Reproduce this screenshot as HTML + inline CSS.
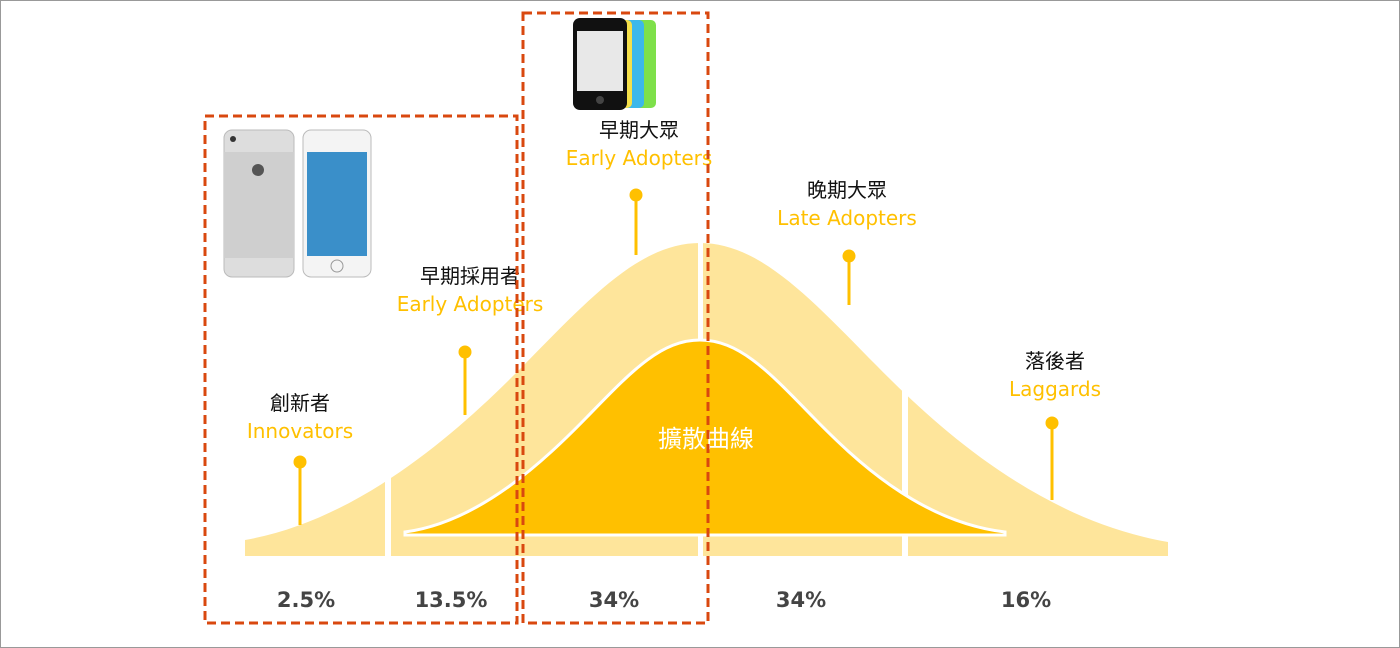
<!DOCTYPE html>
<html><head><meta charset="utf-8"><style>
body{margin:0;background:#fff;}
svg{display:block}
text{font-family:"DejaVu Sans","Noto Sans CJK TC",sans-serif;}
</style></head><body>
<svg width="1400" height="648" viewBox="0 0 1400 648" xmlns="http://www.w3.org/2000/svg">
<rect x="0" y="0" width="1400" height="648" fill="#fff"/>
<!-- outer curve -->
<path d="M245,556 L245,540 C360,520 460,430 523,366 C590,298 640,243 700,243 C760,243 810,298 877,366 C940,430 1040,520 1168,542 L1168,556 Z" fill="#FEE59B"/>
<!-- gaps -->
<rect x="385" y="240" width="6" height="320" fill="#fff"/>
<rect x="698" y="240" width="5" height="320" fill="#fff"/>
<rect x="902" y="240" width="6" height="320" fill="#fff"/>
<!-- inner -->
<path d="M405,535 L405,532 C480,522 545,460 587,417 C630,373 660,340 700,340 C740,340 770,373 813,417 C855,460 920,522 1005,532 L1005,535 Z" fill="#FFC000" stroke="#fff" stroke-width="3"/>
<text x="706" y="447" font-size="24" fill="#fff" text-anchor="middle">擴散曲線</text>
<!-- pins -->
<g fill="#FFC000" stroke="#FFC000" stroke-width="3">
<line x1="300" y1="462" x2="300" y2="525"/><circle cx="300" cy="462" r="5"/>
<line x1="465" y1="352" x2="465" y2="415"/><circle cx="465" cy="352" r="5"/>
<line x1="636" y1="195" x2="636" y2="255"/><circle cx="636" cy="195" r="5"/>
<line x1="849" y1="256" x2="849" y2="305"/><circle cx="849" cy="256" r="5"/>
<line x1="1052" y1="423" x2="1052" y2="500"/><circle cx="1052" cy="423" r="5"/>
</g>
<g font-size="20" text-anchor="middle">
<text x="300" y="410" fill="#111">創新者</text><text x="300" y="438" fill="#FFC000">Innovators</text>
<text x="470" y="283" fill="#111">早期採用者</text><text x="470" y="311" fill="#FFC000">Early Adopters</text>
<text x="639" y="137" fill="#111">早期大眾</text><text x="639" y="165" fill="#FFC000">Early Adopters</text>
<text x="847" y="197" fill="#111">晚期大眾</text><text x="847" y="225" fill="#FFC000">Late Adopters</text>
<text x="1055" y="368" fill="#111">落後者</text><text x="1055" y="396" fill="#FFC000">Laggards</text>
</g>
<g font-size="21" text-anchor="middle" fill="#444" font-weight="bold">
<text x="306" y="607">2.5%</text><text x="451" y="607">13.5%</text><text x="614" y="607">34%</text><text x="801" y="607">34%</text><text x="1026" y="607">16%</text>
</g>
<!-- dashed boxes -->
<g fill="none" stroke="#D9480F" stroke-width="3" stroke-dasharray="9,5">
<rect x="205" y="116" width="312" height="507"/>
<rect x="523" y="13" width="185" height="610"/>
</g>
<!-- phones -->
<rect x="224" y="130" width="70" height="147" rx="8" fill="#ddd" stroke="#bbb"/>
<rect x="224" y="152" width="70" height="106" fill="#cfcfcf"/>
<circle cx="233" cy="139" r="3" fill="#333"/>
<circle cx="258" cy="170" r="6" fill="#555"/>
<rect x="303" y="130" width="68" height="147" rx="8" fill="#f4f4f4" stroke="#bbb"/>
<rect x="307" y="152" width="60" height="104" fill="#3a8fc9"/>
<circle cx="337" cy="266" r="6" fill="none" stroke="#999"/>
<rect x="633" y="20" width="23" height="88" rx="5" fill="#7ee04a"/>
<rect x="621" y="20" width="23" height="88" rx="5" fill="#3cb8ea"/>
<rect x="609" y="20" width="23" height="88" rx="5" fill="#f5e04a"/>
<rect x="597" y="20" width="23" height="88" rx="5" fill="#f06a7a"/>
<rect x="573" y="18" width="54" height="92" rx="7" fill="#111"/>
<rect x="577" y="31" width="46" height="60" fill="#e8e8e8"/>
<circle cx="600" cy="100" r="4" fill="#444"/>
<rect x="0.5" y="0.5" width="1399" height="647" fill="none" stroke="#999" stroke-width="1"/>
</svg>
</body></html>
